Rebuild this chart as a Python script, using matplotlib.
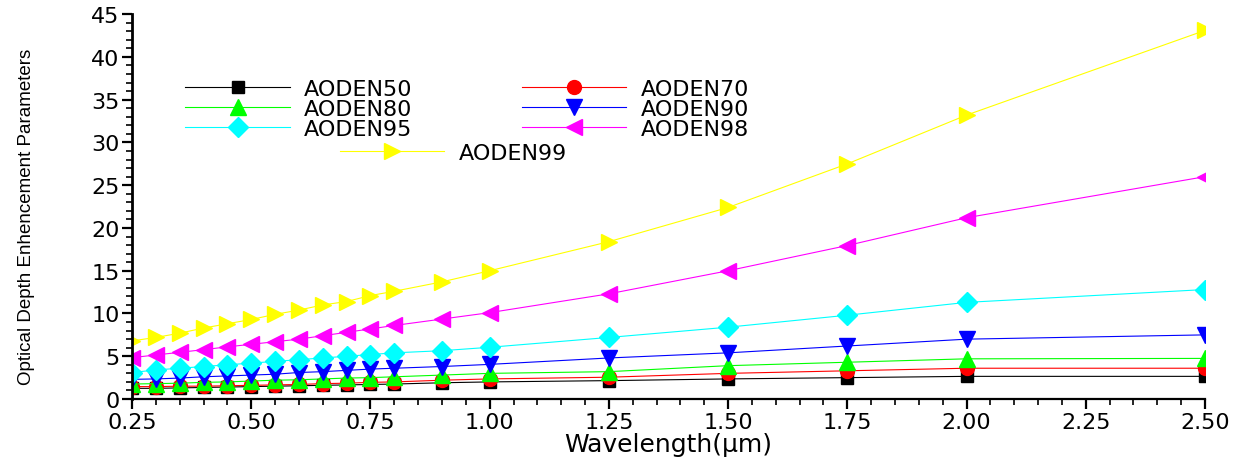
import matplotlib
matplotlib.use("Agg")
import matplotlib.pyplot as plt
from matplotlib.ticker import MultipleLocator

plt.rcParams['font.family'] = ['DejaVu Sans']

# wavelength (um)
wavelength = [0.25, 0.30, 0.35, 0.40, 0.45, 0.50, 0.55, 0.60, 0.65, 0.70,
              0.75, 0.80, 0.90, 1.00, 1.25, 1.50, 1.75, 2.00, 2.50]

aoden50 = [1.25, 1.25, 1.30, 1.35, 1.40, 1.45, 1.50, 1.55, 1.60, 1.65,
           1.70, 1.75, 1.90, 2.00, 2.15, 2.35, 2.50, 2.65, 2.65]
aoden70 = [1.45, 1.45, 1.50, 1.50, 1.55, 1.60, 1.65, 1.70, 1.80, 1.85,
           1.95, 2.00, 2.20, 2.35, 2.55, 3.00, 3.30, 3.60, 3.60]
aoden80 = [1.75, 1.80, 1.85, 1.95, 2.00, 2.10, 2.20, 2.25, 2.35, 2.45,
           2.50, 2.60, 2.80, 3.00, 3.20, 3.90, 4.30, 4.70, 4.75]
aoden90 = [2.30, 2.35, 2.45, 2.60, 2.70, 2.80, 2.90, 3.10, 3.20, 3.35,
           3.50, 3.60, 3.80, 4.05, 4.80, 5.40, 6.20, 7.00, 7.50]
aoden95 = [3.10, 3.40, 3.60, 3.80, 4.00, 4.20, 4.40, 4.60, 4.80, 5.00,
           5.20, 5.40, 5.65, 6.05, 7.20, 8.40, 9.80, 11.3, 12.8]
aoden98 = [4.84, 5.15, 5.46, 5.77, 6.10, 6.40, 6.70, 7.00, 7.40, 7.80,
           8.20, 8.60, 9.35, 10.1, 12.3, 15.0, 17.95, 21.2, 26.0]
aoden99 = [6.8, 7.2, 7.7, 8.3, 8.8, 9.3, 9.9, 10.4, 11.0, 11.4,
           12.1, 12.6, 13.7, 15.0, 18.4, 22.4, 27.5, 33.2, 43.1]

labels = ['AODEN50', 'AODEN70', 'AODEN80', 'AODEN90', 'AODEN95', 'AODEN98', 'AODEN99']
series = [aoden50, aoden70, aoden80, aoden90, aoden95, aoden98, aoden99]
colors = ['black', 'red', '#00ff00', 'blue', '#00ffff', '#ff00ff', '#ffff00']
markers = ['s', 'o', '^', 'v', 'D', '<', '>']
sizes = [9, 10, 11, 11, 10, 11, 11]

fig = plt.figure(figsize=(12.42, 4.6), dpi=100)
ax = fig.add_axes([0.1063, 0.1304, 0.8639, 0.8366])

handles = []
for y, lab, c, m, s in zip(series, labels, colors, markers, sizes):
    h, = ax.plot(wavelength, y, color=c, lw=0.8, marker=m, markersize=s,
                 markerfacecolor=c, markeredgecolor=c, label=lab)
    handles.append(h)

ax.set_xlim(0.25, 2.50)
ax.set_ylim(0, 45)
ax.xaxis.set_major_locator(MultipleLocator(0.25))
ax.xaxis.set_minor_locator(MultipleLocator(0.05))
ax.yaxis.set_major_locator(MultipleLocator(5))
ax.yaxis.set_minor_locator(MultipleLocator(1))
ax.xaxis.set_major_formatter(plt.FormatStrFormatter('%.2f'))

ax.spines['top'].set_visible(False)
ax.spines['right'].set_visible(False)
ax.spines['left'].set_linewidth(2)
ax.spines['bottom'].set_linewidth(1.6)
ax.tick_params(which='major', direction='out', length=7, width=1.6, labelsize=16, pad=2)
ax.tick_params(which='minor', direction='out', length=4, width=1.2)

ax.set_xlabel('Wavelength(\u03bcm)', fontsize=18, labelpad=0)
ax.set_ylabel('Optical Depth Enhencement Parameters', fontsize=13.5,
              family=['Liberation Sans', 'DejaVu Sans'])
ax.yaxis.set_label_coords(-0.09, 0.475)

# first six entries in two columns, row by row
order = [0, 2, 4, 1, 3, 5]
leg1 = ax.legend([handles[i] for i in order], [labels[i] for i in order],
                 ncol=2, frameon=False, fontsize=16, handlelength=4.7,
                 handletextpad=0.65, columnspacing=4.9, labelspacing=0.0,
                 loc='upper left', bbox_to_anchor=(0.031, 0.883))
ax.add_artist(leg1)
ax.legend([handles[6]], [labels[6]], frameon=False, fontsize=16, handlelength=4.7,
          handletextpad=0.65, loc='upper left', bbox_to_anchor=(0.175, 0.717))

fig.savefig('out.png', dpi=100)
